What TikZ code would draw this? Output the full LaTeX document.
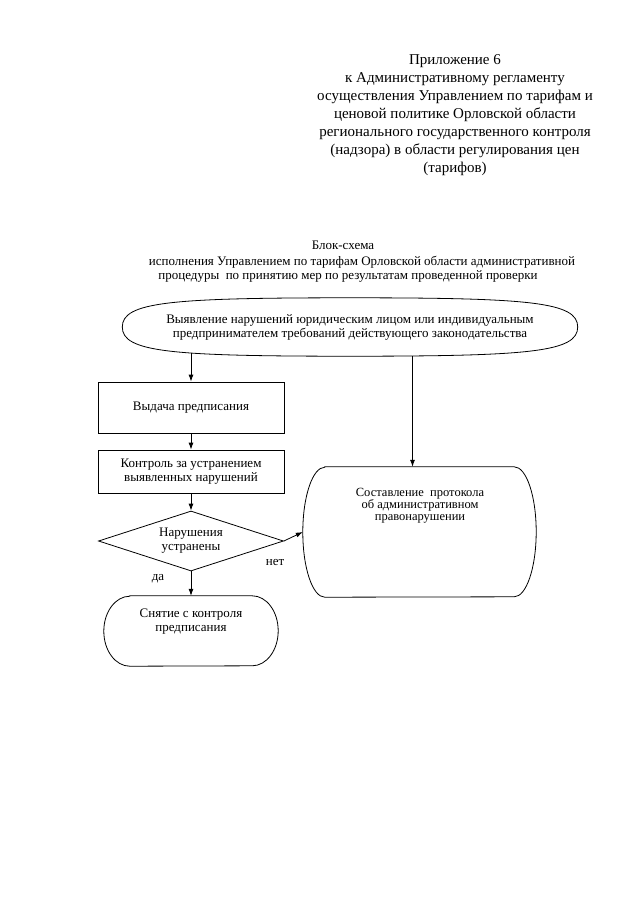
\documentclass[tikz,border=0pt]{standalone}
\usepackage{fontspec}
\setmainfont{Liberation Serif}
\usetikzlibrary{shapes.geometric,arrows.meta,calc}
\newcommand\stadiumoutline[3]{%
  \draw[outline] ([xshift=#2]#1.north west) -- ([xshift=-#2]#1.north east)
    arc[start angle=90,end angle=-90,x radius=#2,y radius=#3]
    -- ([xshift=#2]#1.south west)
    arc[start angle=270,end angle=90,x radius=#2,y radius=#3] -- cycle;}
\begin{document}
\begin{tikzpicture}[x=1pt,y=1pt,
  every node/.style={font=\fontsize{13}{14}\selectfont, inner sep=0pt},
  box/.style={draw, line width=0.8pt, rectangle, minimum width=186, align=center},
  conn/.style={draw, line width=0.8pt, -{Latex[length=7pt,width=5pt]}},
  outline/.style={draw, line width=0.8pt},
  txt/.style={align=center}
]
\useasboundingbox (0,0) rectangle (639,-905);
\fill[white] (0,0) rectangle (639,-905);

\node[txt, font=\fontsize{15}{18}\selectfont] (hdr) at (455,-115)
  {Приложение 6\\
   к Административному регламенту\\
   осуществления Управлением по тарифам и\\
   ценовой политике Орловской области\\
   регионального государственного контроля\\
   (надзора) в области регулирования цен\\
   (тарифов)};

\node (t1) at (343,-245) {Блок-схема};
\node (t2) at (362,-262) {исполнения Управлением по тарифам Орловской области административной};
\node (t3) at (348,-276) {процедуры\ \ по принятию мер по результатам проведенной проверки};

\node[txt, minimum width=455, minimum height=58] (start) at (350,-327)
  {Выявление нарушений юридическим лицом или индивидуальным\\
   предпринимателем требований действующего законодательства};
\draw[outline] (start.west) .. controls +(0,25) and +(-180,0) .. (start.north)
  .. controls +(180,0) and +(0,25) .. (start.east)
  .. controls +(0,-25) and +(180,0) .. (start.south)
  .. controls +(-180,0) and +(0,-25) .. (start.west) -- cycle;

\node[box, minimum height=51] (b1) at (191,-407.5) {Выдача предписания};
\node[box, minimum height=43] (b2) at (191,-471.5) {Контроль за устранением\\выявленных нарушений};
\node[draw, line width=0.8pt, diamond, aspect=3.08, minimum width=185, minimum height=60, txt] (dec) at (191,-541) {Нарушения\\устранены};

\node[minimum width=174, minimum height=70] (stop) at (191,-631) {};
\stadiumoutline{stop}{26}{35}
\node[txt] (stoptext) at (191,-622) {Снятие с контроля\\предписания};

\node[minimum width=233, minimum height=130] (prot) at (419.5,-532) {};
\stadiumoutline{prot}{22}{65}
\node[txt, font=\fontsize{12.5}{12}\selectfont] (prottext) at (420,-506)
  {Составление\ \ протокола\\об административном\\правонарушении};

\draw[conn] ($(start.south -| b1.north)+(0,3)$) -- (b1.north);
\draw[conn] ($(start.south -| prot.north)+(-7,0)$) -- ($(prot.north)+(-7,0)$);
\draw[conn] (b1.south) -- (b2.north);
\draw[conn] (b2.south) -- (dec.north);
\draw[conn] (dec.south) -- (stop.north);
\draw[conn] (dec.east) -- (prot.west);

\node (no) at (275,-562) {нет};
\node (yes) at (158,-579) {да};
\end{tikzpicture}
\end{document}
